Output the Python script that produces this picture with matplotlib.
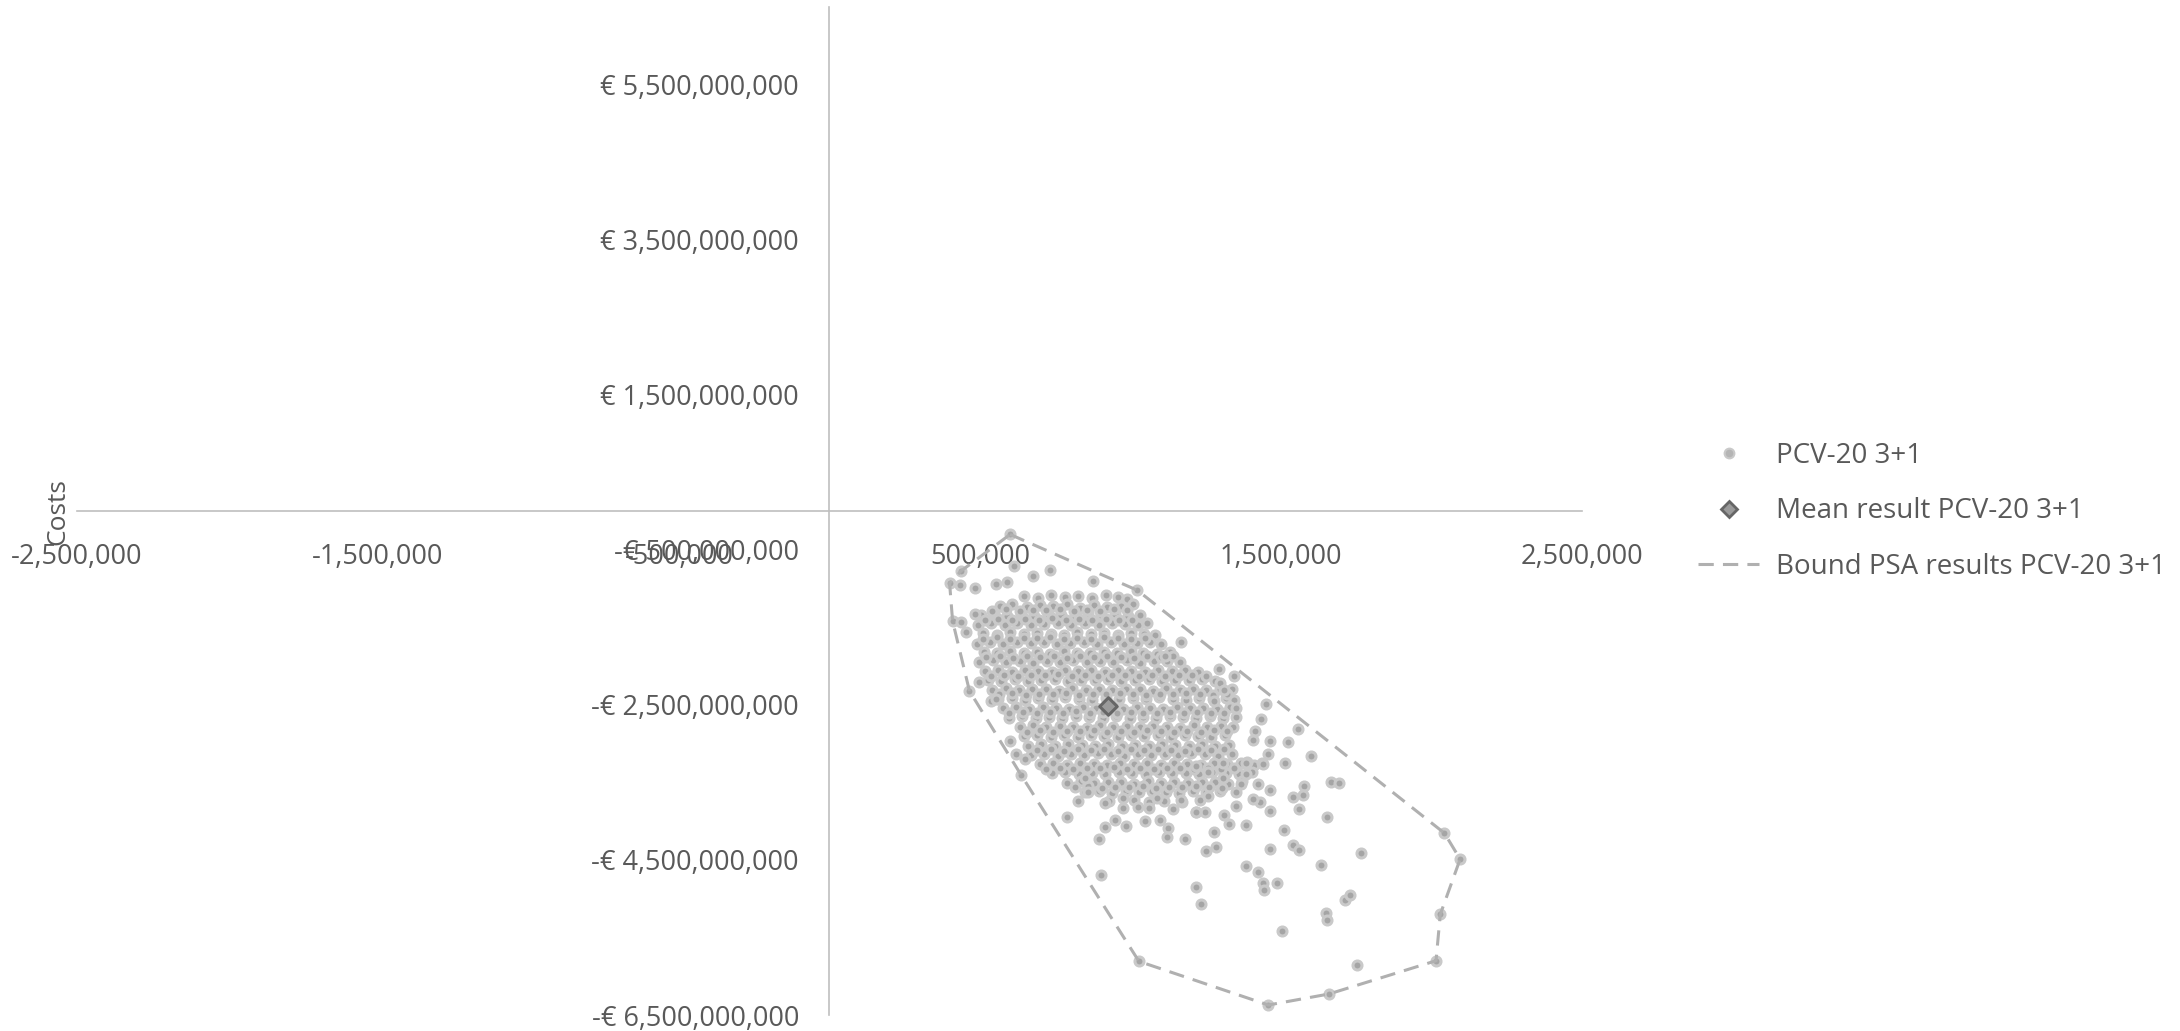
import numpy as np
import matplotlib
matplotlib.use('Agg')
import matplotlib.pyplot as plt
from matplotlib.ticker import FuncFormatter, FixedLocator
from matplotlib.lines import Line2D

plt.rcParams['font.family'] = ['Open Sans', 'DejaVu Sans']

# PSA results: effects (x, thousands) and costs (y, millions of euro)
psa_x = [
    645, 692, 735, 783, 826, 872, 918, 960, 990,
    565, 607, 655, 698, 742, 790, 833, 878, 922, 968, 1008,
    503, 548, 590, 637, 680, 726, 770, 815, 860, 903, 948, 993, 1030,
    492, 535, 582, 624, 670, 713, 760, 803, 848, 895, 938, 982, 1025, 1055,
    510, 556, 600, 645, 690, 735, 778, 823, 868, 912, 958, 1000, 1045, 1080,
    490, 533, 578, 622, 668, 711, 757, 800, 846, 890, 935, 978, 1022, 1066, 1100,
    512, 556, 600, 645, 688, 733, 778, 822, 866, 911, 955, 1000, 1043, 1088, 1130,
    498, 543, 588, 632, 677, 722, 765, 810, 855, 898, 943, 988, 1032, 1077, 1120, 1165,
    515, 560, 605, 648, 693, 738, 782, 827, 870, 915, 960, 1003, 1048, 1093, 1137, 1182, 1225,
    525, 570, 615, 660, 703, 748, 793, 837, 882, 926, 970, 1015, 1060, 1104, 1148, 1193, 1237, 1282,
    540, 585, 630, 672, 718, 762, 807, 851, 896, 940, 985, 1030, 1074, 1118, 1163, 1208, 1252, 1296, 1338,
    560, 605, 650, 693, 740, 783, 828, 873, 917, 962, 1007, 1050, 1095, 1140, 1184, 1228, 1273, 1318, 1345,
    575, 620, 664, 708, 752, 797, 842, 886, 930, 975, 1020, 1064, 1108, 1153, 1198, 1242, 1286, 1330,
    595, 640, 685, 730, 774, 818, 863, 907, 952, 997, 1041, 1085, 1130, 1175, 1219, 1263, 1308, 1350,
    632, 676, 720, 765, 810, 854, 898, 943, 988, 1032, 1076, 1121, 1166, 1210, 1254, 1299, 1342,
    645, 690, 735, 780, 824, 868, 913, 958, 1002, 1046, 1091, 1135, 1180, 1225, 1269, 1313,
    660, 704, 748, 793, 838, 882, 926, 971, 1016, 1060, 1104, 1149, 1194, 1238, 1282, 1327,
    668, 713, 758, 802, 846, 891, 936, 980, 1024, 1069, 1114, 1158, 1202, 1247, 1292, 1336,
    700, 744, 788, 833, 878, 922, 966, 1011, 1056, 1100, 1144, 1189, 1234, 1278, 1322, 1367, 1410,
    738, 783, 828, 872, 916, 961, 1006, 1050, 1094, 1139, 1184, 1228, 1272, 1317, 1362, 1405,
    790, 835, 880, 924, 968, 1013, 1058, 1102, 1146, 1191, 1236, 1280, 1324, 1369,
    850, 895, 940, 984, 1028, 1073, 1118, 1162, 1206, 1251, 1296,
    930, 1010, 1062, 1110, 1170, 1232,
    540, 585, 632, 676, 720, 765, 812, 856, 900, 945, 990,
    515, 560, 605, 650, 695, 738, 785, 828, 872, 918, 962, 1005,
    510, 555, 600, 645, 690, 733, 780, 823, 868, 913, 958, 1002, 1048,
    520, 565, 610, 655, 700, 745, 790, 833, 878, 923, 968, 1012, 1056, 1100, 1142,
    535, 580, 625, 670, 715, 760, 805, 848, 893, 938, 983, 1027, 1072, 1116, 1160, 1205, 1250,
    562, 607, 652, 697, 741, 786, 830, 875, 920, 964, 1009, 1052, 1097, 1141, 1186, 1230, 1275, 1320,
    598, 643, 688, 732, 777, 820, 866, 910, 954, 1000, 1043, 1088, 1132, 1177, 1221, 1266, 1310,
    655, 700, 744, 789, 833, 878, 922, 967, 1010, 1055, 1100, 1144, 1188, 1233, 1278, 1320,
    690, 735, 779, 824, 868, 913, 957, 1002, 1046, 1091, 1135, 1180, 1224, 1269, 1312,
    720, 765, 810, 855, 900, 944, 988, 1033, 1078, 1122, 1166, 1211, 1256, 1300, 1345,
    815, 860, 905, 950, 994, 1040, 1085, 1128, 1172, 1218, 1262, 1305,
    600, 612, 437, 399, 432, 482, 554, 591, 675, 733, 875, 1023, 1168, 1113, 409, 437, 454, 482,
    465, 498, 537, 554, 600, 620, 648,
    1294, 1344, 1298, 1310, 1276, 1351, 1451, 1432, 1412, 1406, 1462, 1523, 1558, 1600, 1458,
    1387, 1438, 1514,
    637, 788, 903, 1028, 897, 914, 947, 984, 914, 826, 859, 850, 975, 975, 1025, 1061, 1088,
    1047, 1099, 1124, 1121, 1182, 1141, 1168, 1216, 1216, 1235,
    2043, 2095, 2029, 2015, 1659, 1458, 1753, 1503, 1650, 1653, 1713, 1728, 1767, 1634, 1654,
    1667, 1694, 1578, 1572, 1561, 1541, 1509, 1539, 1561, 1462, 1487, 1425, 1439, 1445, 1384,
    1384, 1327, 1312, 1279, 1252, 1285, 1465, 1429, 1406, 1465, 1423, 1384, 1368, 1351, 1351,
    1307, 1307, 1384, 1440, 1257, 1257, 1218, 1246, 1218,
]
psa_y = [
    -1090, -1120, -1080, -1110, -1095, -1125, -1085, -1115, -1140,
    -1230, -1205, -1240, -1215, -1225, -1200, -1245, -1210, -1235, -1220, -1205,
    -1345, -1320, -1355, -1330, -1350, -1325, -1340, -1360, -1320, -1345, -1330, -1350, -1335,
    -1470, -1450, -1465, -1440, -1475, -1455, -1445, -1470, -1450, -1465, -1440, -1460, -1475, -1450,
    -1575, -1595, -1565, -1590, -1570, -1585, -1600, -1565, -1590, -1575, -1595, -1570, -1585, -1600,
    -1710, -1690, -1715, -1695, -1705, -1685, -1720, -1700, -1690, -1715, -1695, -1710, -1700, -1685, -1715,
    -1815, -1835, -1810, -1830, -1820, -1840, -1805, -1825, -1835, -1815, -1830, -1810, -1825, -1840, -1815,
    -1945, -1925, -1950, -1935, -1955, -1930, -1945, -1920, -1950, -1935, -1945, -1925, -1955, -1940, -1930, -1950,
    -2065, -2045, -2070, -2050, -2060, -2075, -2045, -2065, -2055, -2070, -2050, -2060, -2075, -2045, -2065, -2055, -2070,
    -2175, -2195, -2170, -2190, -2180, -2165, -2195, -2175, -2185, -2170, -2190, -2180, -2165, -2195, -2175, -2185, -2170, -2190,
    -2305, -2285, -2310, -2290, -2300, -2315, -2285, -2305, -2295, -2310, -2290, -2300, -2315, -2285, -2305, -2295, -2310, -2290, -2300,
    -2425, -2410, -2435, -2415, -2430, -2405, -2420, -2435, -2410, -2425, -2415, -2430, -2405, -2420, -2435, -2410, -2425, -2415, -2440,
    -2545, -2525, -2550, -2530, -2540, -2555, -2525, -2545, -2535, -2550, -2530, -2540, -2555, -2525, -2545, -2535, -2550, -2530,
    -2665, -2650, -2675, -2655, -2670, -2645, -2660, -2675, -2650, -2665, -2655, -2670, -2645, -2660, -2675, -2650, -2665, -2655,
    -2785, -2765, -2790, -2770, -2780, -2795, -2765, -2785, -2775, -2790, -2770, -2780, -2795, -2765, -2785, -2775, -2790,
    -2905, -2890, -2915, -2895, -2910, -2885, -2900, -2915, -2890, -2905, -2895, -2910, -2885, -2900, -2915, -2890,
    -3025, -3005, -3030, -3010, -3020, -3035, -3005, -3025, -3015, -3030, -3010, -3020, -3035, -3005, -3025, -3015,
    -3145, -3130, -3155, -3135, -3150, -3125, -3140, -3155, -3130, -3145, -3135, -3150, -3125, -3140, -3155, -3130,
    -3265, -3245, -3270, -3250, -3260, -3275, -3245, -3265, -3255, -3270, -3250, -3260, -3275, -3245, -3265, -3255, -3270,
    -3385, -3370, -3395, -3375, -3390, -3365, -3380, -3395, -3370, -3385, -3375, -3390, -3365, -3380, -3395, -3370,
    -3505, -3485, -3510, -3490, -3500, -3515, -3485, -3505, -3495, -3510, -3490, -3500, -3515, -3485,
    -3625, -3610, -3635, -3615, -3630, -3605, -3620, -3635, -3610, -3625, -3615,
    -3745, -3730, -3755, -3735, -3750, -3725,
    -1285, -1270, -1290, -1275, -1280, -1265, -1290, -1275, -1285, -1270, -1280,
    -1405, -1390, -1410, -1395, -1400, -1385, -1410, -1395, -1405, -1390, -1400, -1410,
    -1645, -1630, -1650, -1635, -1640, -1625, -1650, -1635, -1645, -1630, -1640, -1650, -1635,
    -1885, -1870, -1890, -1875, -1880, -1865, -1890, -1875, -1885, -1870, -1880, -1890, -1875, -1885, -1870,
    -2125, -2110, -2130, -2115, -2120, -2105, -2130, -2115, -2125, -2110, -2120, -2130, -2115, -2125, -2110, -2120, -2130,
    -2365, -2350, -2370, -2355, -2360, -2345, -2370, -2355, -2365, -2350, -2360, -2370, -2355, -2365, -2350, -2360, -2370, -2355,
    -2605, -2590, -2610, -2595, -2600, -2585, -2610, -2595, -2605, -2590, -2600, -2610, -2595, -2605, -2590, -2600, -2610,
    -2845, -2830, -2850, -2835, -2840, -2825, -2850, -2835, -2845, -2830, -2840, -2850, -2835, -2845, -2830, -2840,
    -3085, -3070, -3090, -3075, -3080, -3065, -3090, -3075, -3085, -3070, -3080, -3090, -3075, -3085, -3070,
    -3325, -3310, -3330, -3315, -3320, -3305, -3330, -3315, -3325, -3310, -3320, -3330, -3315, -3325, -3310,
    -3565, -3550, -3570, -3555, -3560, -3545, -3570, -3555, -3565, -3550, -3560, -3570,
    -302, -713, -774, -932, -958, -997, -945, -919, -842, -761, -903, -1023, -1694, -1870, -1419, -1436, -1564, -1332,
    -2321, -2209, -2450, -2428, -2965, -3137, -3202,
    -2032, -2127, -2213, -2312, -2450, -2535, -2483, -2686, -2836, -2956, -2965, -2978, -2805, -3158, -3137,
    -3236, -3256, -3256,
    -3407, -3940, -4692, -5808, -4232, -4073, -3987, -4060, -3772, -3738, -3630, -3446, -3695, -3836, -3816, -3836, -3695,
    -3996, -3987, -4094, -4202, -4232, -3845, -3726, -3888, -4847, -5070,
    -4155, -4490, -5203, -5800, -6229, -6371, -5856, -5422, -5186, -5276, -5014, -4954, -4412, -4563, -3952,
    -3501, -3514, -3545, -3665, -3845, -3687, -4116, -4309, -4370, -4361, -4803, -4661, -4799, -4885, -4576,
    -4052, -4039, -3923, -4146, -4383, -4339, -3867, -3759, -3708, -3597, -3523, -3394, -3523, -3630, -3803,
    -3437, -3244, -3244, -3265, -3674, -3372, -3287, -3888, -3888,
]

mean_x = [925]
mean_y = [-2510]

# convex bound around the PSA cloud
bound_x = [600, 1023, 2043, 2095, 2029, 2015, 1659, 1458, 1028, 637, 465, 409, 399, 437, 600]
bound_y = [-302, -1023, -4155, -4490, -5203, -5800, -6229, -6371, -5808, -3407, -2321, -1419, -932, -774, -302]

x_ticks = [-2500000, -1500000, -500000, 500000, 1500000, 2500000]
y_ticks = [-6.5e9, -4.5e9, -2.5e9, -0.5e9, 1.5e9, 3.5e9, 5.5e9]

txt = '#595959'
axis_col = '#bfbfbf'

fig = plt.figure(figsize=(21.8, 10.31), dpi=100)
ax = fig.add_axes([0.0353, 0.0155, 0.6904, 0.9777])

ax.scatter(np.array(psa_x) * 1e3, np.array(psa_y) * 1e6, s=42, marker='o',
           facecolor='#a5a5a5', edgecolor='#c9c9c9', linewidths=2.2, zorder=3)
ax.scatter(np.array(mean_x) * 1e3, np.array(mean_y) * 1e6, s=80, marker='D',
           facecolor='#9a9a9a', edgecolor='#666666', linewidths=2.2, zorder=5)
ax.plot(np.array(bound_x) * 1e3, np.array(bound_y) * 1e6, color='#b0b0b0',
        lw=2.2, dashes=(5, 3), zorder=4)

ax.set_xlim(-2.5e6, 2.5e6)
ax.set_ylim(-6.5e9, 6.5e9)

for s in ['top', 'right']:
    ax.spines[s].set_visible(False)
for s in ['left', 'bottom']:
    ax.spines[s].set_position(('data', 0))
    ax.spines[s].set_color(axis_col)
    ax.spines[s].set_linewidth(1.2)

ax.xaxis.set_major_locator(FixedLocator(x_ticks))
ax.yaxis.set_major_locator(FixedLocator(y_ticks))
ax.xaxis.set_major_formatter(FuncFormatter(lambda v, p: '{:,.0f}'.format(v)))


def euro(v, p):
    s = '€ {:,.0f}'.format(abs(v))
    return '-' + s if v < 0 else s


ax.yaxis.set_major_formatter(FuncFormatter(euro))
ax.tick_params(axis='x', length=0, pad=23, labelsize=19.5, labelcolor=txt)
ax.tick_params(axis='y', length=0, pad=22, labelsize=19.5, labelcolor=txt)

fig.text(0.0266, 0.5035, 'Costs', rotation=90, ha='center', va='center',
         fontsize=19, color=txt)

handles = [
    Line2D([], [], ls='none', marker='o', ms=7, mfc='#b5b5b5', mec='#c9c9c9', mew=1.5),
    Line2D([], [], ls='none', marker='D', ms=8, mfc='#9a9a9a', mec='#666666', mew=2),
    Line2D([], [], color='#b0b0b0', lw=2.2, dashes=(5, 3)),
]
labels = ['PCV-20 3+1', 'Mean result PCV-20 3+1', 'Bound PSA results PCV-20 3+1']
fig.legend(handles, labels, loc='center left', bbox_to_anchor=(0.779, 0.504),
           frameon=False, fontsize=20, labelcolor=txt, handlelength=2.2,
           handletextpad=0.6, labelspacing=1.0, borderpad=0, borderaxespad=0)

fig.savefig('out.png', dpi=100)
